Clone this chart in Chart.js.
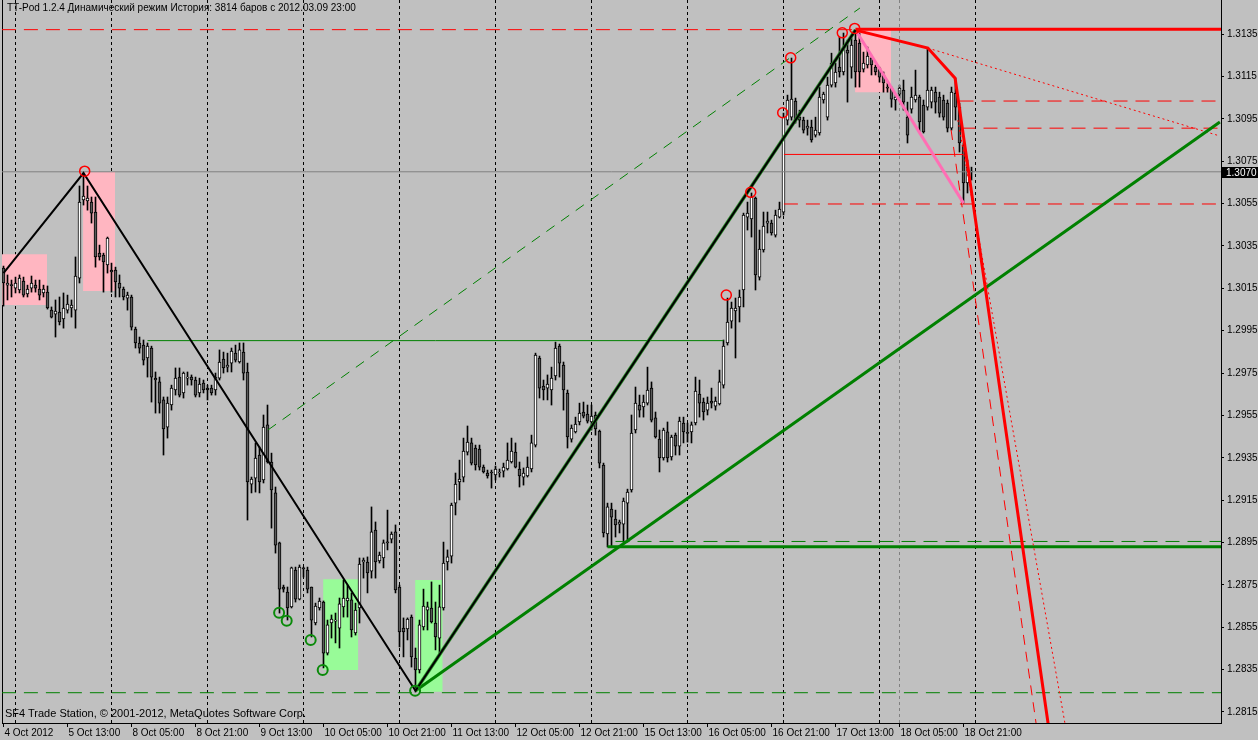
<!DOCTYPE html>
<html>
<head>
<meta charset="utf-8">
<script src="https://cdn.jsdelivr.net/npm/chart.js@4.4.0/dist/chart.umd.min.js"></script>
<style>
  html, body { margin: 0; padding: 0; background: #c0c0c0; }
  #wrap { position: relative; width: 1258px; height: 740px; overflow: hidden; }
  .note { position: absolute; font-family: 'Liberation Sans', sans-serif; color: #000; white-space: nowrap; }
  #title { left: 7px; top: 2px; font-size: 10px; }
  #copy { left: 5px; top: 707px; font-size: 11px; }
</style>
</head>
<body>
<div id="wrap">
  <canvas id="chart" width="1258" height="740"></canvas>
  <div class="note" id="title">TT-Pod 1.2.4 Динамический режим История: 3814 баров с 2012.03.09 23:00</div>
  <div class="note" id="copy">SF4 Trade Station, © 2001-2012, MetaQuotes Software Corp.</div>
</div>
<script>
// EURUSD H1, bar 0 = 4 Oct 21:00
const opens = [
  1.30246,1.30165,1.30165,1.30151,1.30142,1.30184,1.30123,1.30151,1.30165,1.30146,
  1.30128,1.30132,1.30047,1.30028,1.30038,1.30005,1.30047,1.30057,1.30047,1.30198,
  1.30567,1.30562,1.30557,1.30510,1.30316,1.30307,1.30260,1.30236,1.30236,1.30175,
  1.30146,1.30104,1.30109,1.29958,1.29892,1.29882,1.29821,1.29868,1.29726,1.29708,
  1.29623,1.29495,1.29599,1.29670,1.29731,1.29656,1.29726,1.29731,1.29717,1.29656,
  1.29703,1.29679,1.29679,1.29670,1.29726,1.29816,1.29778,1.29797,1.29844,1.29802,
  1.29849,1.29755,1.29226,1.29254,1.29363,1.29245,1.29505,1.29330,1.29184,1.28948,
  1.28740,1.28716,1.28646,1.28820,1.28683,1.28830,1.28820,1.28740,1.28570,1.28641,
  1.28669,1.28428,1.28570,1.28579,1.28546,1.28646,1.28674,1.28679,1.28523,1.28641,
  1.28858,1.28858,1.28815,1.29009,1.28863,1.28877,1.28952,1.28966,1.29000,1.28740,
  1.28546,1.28542,1.28598,1.28405,1.28348,1.28551,1.28631,1.28641,1.28570,1.28499,
  1.28641,1.28858,1.28886,1.29136,1.29236,1.29259,1.29377,1.29420,1.29396,1.29391,
  1.29306,1.29278,1.29283,1.29269,1.29278,1.29287,1.29297,1.29330,1.29377,1.29297,
  1.29259,1.29264,1.29297,1.29410,1.29821,1.29689,1.29679,1.29670,1.29736,1.29877,
  1.29788,1.29656,1.29438,1.29472,1.29519,1.29566,1.29556,1.29519,1.29552,1.29476,
  1.29316,1.28990,1.29108,1.29061,1.29037,1.29037,1.29136,1.29198,1.29481,1.29599,
  1.29590,1.29608,1.29679,1.29538,1.29438,1.29349,1.29472,1.29354,1.29457,1.29405,
  1.29514,1.29467,1.29472,1.29514,1.29651,1.29613,1.29575,1.29618,1.29594,1.29604,
  1.29693,1.29892,1.29995,1.30043,1.30062,1.30142,1.30486,1.30477,1.30576,1.30203,
  1.30331,1.30458,1.30458,1.30401,1.30486,1.30510,1.30944,1.30958,1.31034,1.30958,
  1.30944,1.30906,1.30911,1.30873,1.30883,1.31039,1.30958,1.31109,1.31119,1.31194,
  1.31171,1.31275,1.31194,1.31322,1.31308,1.31185,1.31204,1.31237,1.31194,1.31190,
  1.31157,1.31100,1.31095,1.31039,1.31067,1.31086,1.30958,1.30996,1.31039,1.31053,
  1.31015,1.31005,1.31029,1.31076,1.31053,1.31039,1.31024,1.30906,1.31071,1.31005,
  1.30826,1.30647,1.30699
];
const highs = [
  1.30255,1.30213,1.30189,1.30203,1.30213,1.30203,1.30165,1.30208,1.30189,1.30189,
  1.30165,1.30161,1.30062,1.30095,1.30109,1.30128,1.30118,1.30095,1.30298,1.30633,
  1.30694,1.30633,1.30581,1.30581,1.30354,1.30316,1.30392,1.30269,1.30250,1.30213,
  1.30156,1.30132,1.30118,1.29967,1.29920,1.29906,1.29892,1.29877,1.29755,1.29731,
  1.29637,1.29637,1.29693,1.29774,1.29774,1.29755,1.29755,1.29741,1.29731,1.29726,
  1.29717,1.29693,1.29693,1.29750,1.29859,1.29849,1.29844,1.29868,1.29882,1.29892,
  1.29892,1.29797,1.29259,1.29420,1.29401,1.29552,1.29599,1.29372,1.29212,1.28952,
  1.28749,1.28740,1.28834,1.28834,1.28844,1.28834,1.28834,1.28740,1.28664,1.28688,
  1.28674,1.28584,1.28608,1.28617,1.28688,1.28773,1.28749,1.28712,1.28664,1.28877,
  1.28877,1.28882,1.29118,1.29047,1.28905,1.28962,1.29103,1.29000,1.29033,1.28749,
  1.28594,1.28594,1.28608,1.28452,1.28584,1.28730,1.28669,1.28764,1.28669,1.28749,
  1.28952,1.28915,1.29136,1.29278,1.29339,1.29443,1.29500,1.29443,1.29410,1.29410,
  1.29316,1.29292,1.29292,1.29311,1.29297,1.29325,1.29420,1.29443,1.29420,1.29330,
  1.29302,1.29354,1.29457,1.29844,1.29830,1.29717,1.29741,1.29778,1.29896,1.29887,
  1.29802,1.29670,1.29505,1.29542,1.29608,1.29613,1.29599,1.29599,1.29566,1.29481,
  1.29325,1.29136,1.29136,1.29103,1.29056,1.29160,1.29202,1.29552,1.29684,1.29646,
  1.29646,1.29778,1.29708,1.29566,1.29481,1.29490,1.29519,1.29457,1.29467,1.29542,
  1.29542,1.29514,1.29519,1.29731,1.29717,1.29632,1.29637,1.29679,1.29637,1.29764,
  1.29906,1.30104,1.30085,1.30104,1.30142,1.30505,1.30557,1.30600,1.30581,1.30425,
  1.30510,1.30510,1.30472,1.30519,1.30557,1.30977,1.31062,1.31237,1.31048,1.30991,
  1.30958,1.30944,1.30944,1.30958,1.31100,1.31076,1.31147,1.31260,1.31213,1.31336,
  1.31355,1.31322,1.31331,1.31369,1.31355,1.31265,1.31289,1.31241,1.31204,1.31194,
  1.31171,1.31119,1.31100,1.31062,1.31109,1.31133,1.31029,1.31100,1.31180,1.31062,
  1.31039,1.31284,1.31100,1.31100,1.31076,1.31062,1.31039,1.31100,1.31142,1.31024,
  1.30836,1.30755,1.30722
];
const lows = [
  1.30066,1.30095,1.30109,1.30128,1.30128,1.30109,1.30109,1.30132,1.30132,1.30095,
  1.30109,1.30052,1.30010,1.29920,1.29977,1.29962,1.30033,1.30014,1.29962,1.30175,
  1.30543,1.30519,1.30458,1.30250,1.30283,1.30132,1.30222,1.30132,1.30109,1.30109,
  1.30095,1.30047,1.29953,1.29868,1.29844,1.29788,1.29731,1.29613,1.29561,1.29561,
  1.29363,1.29443,1.29575,1.29646,1.29637,1.29632,1.29693,1.29693,1.29637,1.29637,
  1.29656,1.29623,1.29646,1.29646,1.29717,1.29750,1.29755,1.29755,1.29802,1.29797,
  1.29717,1.29056,1.29184,1.29188,1.29184,1.29231,1.29325,1.29018,1.28900,1.28617,
  1.28716,1.28584,1.28641,1.28669,1.28679,1.28787,1.28712,1.28504,1.28561,1.28631,
  1.28358,1.28419,1.28499,1.28476,1.28452,1.28598,1.28598,1.28504,1.28513,1.28570,
  1.28782,1.28712,1.28782,1.28782,1.28853,1.28830,1.28915,1.28948,1.28712,1.28457,
  1.28410,1.28490,1.28362,1.28244,1.28334,1.28537,1.28537,1.28570,1.28443,1.28428,
  1.28631,1.28820,1.28853,1.29080,1.29151,1.29236,1.29363,1.29316,1.29292,1.29292,
  1.29278,1.29254,1.29207,1.29245,1.29259,1.29259,1.29292,1.29325,1.29302,1.29212,
  1.29221,1.29259,1.29283,1.29401,1.29632,1.29623,1.29623,1.29599,1.29717,1.29731,
  1.29575,1.29396,1.29424,1.29467,1.29505,1.29538,1.29514,1.29481,1.29457,1.29302,
  1.28976,1.28929,1.28929,1.28976,1.28995,1.28952,1.28952,1.29188,1.29467,1.29542,
  1.29542,1.29599,1.29519,1.29443,1.29283,1.29339,1.29330,1.29339,1.29363,1.29363,
  1.29420,1.29424,1.29420,1.29505,1.29542,1.29528,1.29552,1.29585,1.29575,1.29599,
  1.29679,1.29882,1.29962,1.29821,1.29991,1.30062,1.30425,1.30392,1.30142,1.30189,
  1.30321,1.30411,1.30401,1.30392,1.30482,1.30496,1.30921,1.30944,1.30930,1.30911,
  1.30883,1.30873,1.30840,1.30864,1.30873,1.31024,1.30944,1.31100,1.31100,1.31147,
  1.31157,1.31029,1.31142,1.31100,1.31100,1.31171,1.31190,1.31157,1.31157,1.31123,
  1.31076,1.31076,1.31005,1.30991,1.31048,1.30991,1.30836,1.30977,1.31029,1.30888,
  1.30883,1.30991,1.31001,1.30977,1.30958,1.30944,1.30888,1.30897,1.30944,1.30793,
  1.30552,1.30600,1.30661
];
const closes = [
  1.30175,1.30175,1.30163,1.30175,1.30198,1.30118,1.30146,1.30175,1.30151,1.30118,
  1.30146,1.30057,1.30014,1.30043,1.29991,1.30057,1.30076,1.30071,1.30208,1.30557,
  1.30585,1.30576,1.30505,1.30298,1.30298,1.30274,1.30387,1.30227,1.30180,1.30151,
  1.30109,1.30118,1.29967,1.29892,1.29868,1.29811,1.29877,1.29731,1.29717,1.29608,
  1.29486,1.29608,1.29679,1.29726,1.29646,1.29750,1.29731,1.29717,1.29646,1.29698,
  1.29670,1.29670,1.29656,1.29731,1.29802,1.29774,1.29788,1.29854,1.29811,1.29859,
  1.29750,1.29236,1.29250,1.29349,1.29236,1.29495,1.29330,1.29198,1.28938,1.28730,
  1.28730,1.28641,1.28830,1.28683,1.28834,1.28825,1.28730,1.28584,1.28650,1.28674,
  1.28428,1.28561,1.28589,1.28579,1.28660,1.28688,1.28688,1.28537,1.28631,1.28848,
  1.28867,1.28806,1.29000,1.28858,1.28891,1.28948,1.28948,1.28990,1.28726,1.28528,
  1.28528,1.28589,1.28410,1.28348,1.28561,1.28650,1.28646,1.28575,1.28504,1.28646,
  1.28853,1.28882,1.29127,1.29226,1.29250,1.29382,1.29424,1.29325,1.29316,1.29306,
  1.29283,1.29264,1.29278,1.29297,1.29283,1.29306,1.29339,1.29382,1.29306,1.29264,
  1.29278,1.29306,1.29420,1.29835,1.29679,1.29670,1.29698,1.29726,1.29868,1.29797,
  1.29670,1.29448,1.29490,1.29509,1.29561,1.29547,1.29523,1.29547,1.29486,1.29325,
  1.28995,1.29118,1.29070,1.29033,1.29047,1.29146,1.29188,1.29467,1.29608,1.29575,
  1.29613,1.29670,1.29528,1.29448,1.29349,1.29481,1.29349,1.29448,1.29405,1.29523,
  1.29472,1.29465,1.29505,1.29665,1.29608,1.29566,1.29608,1.29608,1.29618,1.29708,
  1.29877,1.29991,1.30057,1.30057,1.30109,1.30496,1.30505,1.30581,1.30213,1.30335,
  1.30444,1.30467,1.30411,1.30496,1.30524,1.30958,1.31039,1.31043,1.30944,1.30944,
  1.30897,1.30916,1.30850,1.30897,1.31053,1.31067,1.31109,1.31213,1.31171,1.31171,
  1.31284,1.31260,1.31298,1.31171,1.31171,1.31213,1.31246,1.31204,1.31171,1.31147,
  1.31119,1.31095,1.31043,1.31053,1.31095,1.31029,1.30873,1.31053,1.31062,1.30935,
  1.30888,1.31086,1.31086,1.31029,1.30977,1.30958,1.30906,1.31076,1.31005,1.30836,
  1.30647,1.30722,1.30700
];

// axis ticks
const xTickPos = [0, 16, 32, 48, 64, 80, 96, 112, 128, 144, 160, 176, 192, 208, 224, 240];
const xTickLabels = ['4 Oct 2012', '5 Oct 13:00', '8 Oct 05:00', '8 Oct 21:00', '9 Oct 13:00',
  '10 Oct 05:00', '10 Oct 21:00', '11 Oct 13:00', '12 Oct 05:00', '12 Oct 21:00',
  '15 Oct 13:00', '16 Oct 05:00', '16 Oct 21:00', '17 Oct 13:00', '18 Oct 05:00', '18 Oct 21:00'];
const dayStarts = [3, 27, 51, 75, 99, 123, 147, 171, 195, 219, 243];
const yTickValues = [1.2815, 1.2835, 1.2855, 1.2875, 1.2895, 1.2915, 1.2935, 1.2955, 1.2975,
  1.2995, 1.3015, 1.3035, 1.3055, 1.3075, 1.3095, 1.3115, 1.3135];
const xMin = -0.375, xMax = 304.375;
const yMin = 1.28098, yMax = 1.31511;

// zigzag and trend objects: [bar, price]
const zigzagBlack = [[0, 1.30222], [20, 1.30694], [103, 1.28250]];
const zigzagUp = [[103, 1.28250], [213, 1.31369]];
const zigzagRed = [[213, 1.31369], [231.1, 1.31284], [237.9, 1.31142], [261.5, 1.28050]];
const pinkLeg = [[213, 1.31369], [240, 1.30552]];
const greenTrend = [[103, 1.28250], [304.1, 1.30935]];
const greenChannel = [[66.1, 1.29481], [214.1, 1.31473]];
const redProjDash = [[236.9, 1.30897], [258.5, 1.28050]];
const redProjDot = [[238.6, 1.30944], [265.8, 1.28050]];
const redFanDot = [[231.1, 1.31284], [304.1, 1.30869]];

// horizontal levels: [from bar, to bar, price]
const greenLevel = [36, 180, 1.29903];
const greenSupport = [151, 304.4, 1.28930];
const greenSupportDash = [153, 304.4, 1.28955];
const greenBottomDash = [-0.4, 304.4, 1.28241];
const redTopDash = [-0.4, 213, 1.31371];
const redTop = [213, 304.4, 1.31373];
const redDash1 = [239, 304.4, 1.31034];
const redDash2 = [239.5, 304.4, 1.30906];
const redSolid = [195.1, 240, 1.30782];
const redDash3 = [195.1, 304.4, 1.30548];
const bidPrice = 1.30700;
const markerBar = 224;

// boxes: [from bar, to bar, top, bottom]
const pinkBoxes = [[-0.375, 10.9, 1.30311, 1.30071], [19.9, 27.9, 1.30699, 1.30137], [212.9, 221.9, 1.31369, 1.31076]];
const greenBoxes = [[79.9, 88.7, 1.28777, 1.28348], [102.9, 109.8, 1.28773, 1.28246]];

// fractal rings: [bar, price]
const highRings = [[20.3, 1.30703], [180.7, 1.30118], [186.8, 1.30603], [194.8, 1.30979], [196.8, 1.31238], [209.7, 1.31356], [212.8, 1.31377]];
const lowRings = [[68.9, 1.28618], [70.8, 1.28581], [76.8, 1.28490], [79.8, 1.28348], [102.9, 1.28250]];

const fontFam = "'Liberation Sans', sans-serif";
Chart.defaults.font.family = fontFam;
Chart.defaults.font.size = 10;
Chart.defaults.color = '#000';

function pts(arr) {
    return arr.map(p => ({ x: p[0], y: p[1] }));
}

function line(arr, color, width, dash, order) {
    return {
        type: 'line', data: pts(arr), borderColor: color, borderWidth: width,
        borderDash: dash || [], pointRadius: 0, fill: false, tension: 0, order: order
    };
}

function level(l, color, width, dash, order) {
    return line([[l[0], l[2]], [l[1], l[2]]], color, width, dash, order);
}

function box(b, color) {
    return {
        type: 'line', data: [{ x: b[0], y: b[2] }, { x: b[1], y: b[2] }],
        borderWidth: 0, pointRadius: 0, fill: { value: b[3] }, backgroundColor: color, order: 20
    };
}

function rings(arr, color, width) {
    return {
        type: 'line', data: pts(arr), showLine: false, pointRadius: 5,
        pointBorderWidth: width, pointBorderColor: color, pointBackgroundColor: 'rgba(0,0,0,0)', order: 0
    };
}

const bodies = opens.map((o, i) => ({ x: i, y: [o, closes[i]] }));
const wicks = lows.map((l, i) => ({ x: i, y: [l, highs[i]] }));
const bodyColors = opens.map((o, i) => closes[i] >= o ? '#ffffff' : '#5a5a5a');

const datasets = [
    ...pinkBoxes.map(b => box(b, '#ffb6c1')),
    ...greenBoxes.map(b => box(b, '#98fb98')),
    {
        type: 'bar', data: wicks, backgroundColor: '#000', borderWidth: 0,
        barThickness: 1, grouped: false, order: 9
    },
    {
        type: 'bar', data: bodies, backgroundColor: bodyColors, borderColor: '#000',
        borderWidth: 1, borderSkipped: false, barThickness: 3, minBarLength: 1, grouped: false, order: 8
    },
    level([-0.4, 304.4, bidPrice], '#808080', 1, [], 7),
    line([[markerBar, yMin], [markerBar, yMax]], '#808080', 1, [3, 3], 7),
    level(greenLevel, '#008000', 1, [], 6),
    level(greenSupport, '#008000', 3, [], 6),
    level(greenSupportDash, '#008000', 1, [14, 8], 6),
    level(greenBottomDash, '#008000', 1, [14, 8], 6),
    level(redTopDash, '#ff0000', 1, [14, 8], 6),
    level(redTop, '#ff0000', 3, [], 6),
    level(redDash1, '#ff0000', 1, [14, 8], 6),
    level(redDash2, '#ff0000', 1, [14, 8], 6),
    level(redSolid, '#ff0000', 1, [], 6),
    level(redDash3, '#ff0000', 1, [14, 8], 6),
    line(greenChannel, '#008000', 1, [10, 8], 5),
    line(redProjDash, '#ff0000', 1, [10, 7], 5),
    line(redProjDot, '#ff0000', 1, [2, 3], 5),
    line(redFanDot, '#ff0000', 1, [2, 3], 5),
    line(greenTrend, '#008000', 3, [], 4),
    line(pinkLeg, '#ff6eb4', 3, [], 3),
    line(zigzagBlack, '#000', 2, [], 2),
    line(zigzagUp, '#2a8a2a', 3.5, [], 2),
    line(zigzagUp, '#000', 2, [], 1),
    line(zigzagRed, '#ff0000', 3, [], 1),
    rings(highRings, '#ff0000', 1.5),
    rings(lowRings, '#0a8a0a', 2)
];

// last price tag on the right axis
const priceTag = {
    id: 'priceTag',
    afterDraw(chart) {
        const { ctx, chartArea, scales } = chart;
        const v = closes[closes.length - 1];
        const py = Math.round(scales.y.getPixelForValue(v));
        ctx.save();
        ctx.fillStyle = '#000';
        ctx.fillRect(chartArea.right + 1, py - 5, 37, 11);
        ctx.fillStyle = '#fff';
        ctx.font = '10px ' + fontFam;
        ctx.textBaseline = 'middle';
        ctx.fillText(v.toFixed(4), chartArea.right + 5, py + 1);
        ctx.restore();
    }
};

new Chart(document.getElementById('chart'), {
    type: 'bar',
    data: { datasets: datasets },
    options: {
        responsive: false,
        animation: false,
        devicePixelRatio: 1,
        events: [],
        layout: { autoPadding: false, padding: { left: 2, top: 0, right: 0, bottom: 0 } },
        plugins: { legend: { display: false }, tooltip: { enabled: false }, title: { display: false } },
        scales: {
            x: {
                type: 'linear', position: 'bottom', min: xMin, max: xMax, offset: false,
                grid: { drawOnChartArea: false, drawTicks: true, tickLength: 4, tickColor: '#000', offset: false },
                border: { display: true, color: '#000' },
                ticks: {
                    autoSkip: false, maxRotation: 0, align: 'start', padding: 0, labelOffset: 1,
                    callback: (v, i) => xTickLabels[i]
                },
                afterBuildTicks: s => { s.ticks = xTickPos.map(v => ({ value: v })); },
                afterFit: s => { s.height = 17; s.paddingLeft = 0; s.paddingRight = 0; }
            },
            xg: {
                type: 'linear', position: 'top', min: xMin, max: xMax, offset: false,
                grid: { drawOnChartArea: true, drawTicks: false, color: '#000', lineWidth: 1, offset: false },
                border: { display: false, dash: [3, 3] },
                ticks: { display: false },
                afterBuildTicks: s => { s.ticks = dayStarts.map(v => ({ value: v })); },
                afterFit: s => { s.height = 0; s.paddingLeft = 0; s.paddingRight = 0; }
            },
            y: {
                type: 'linear', position: 'right', min: yMin, max: yMax, beginAtZero: false,
                grid: { drawOnChartArea: false, drawTicks: true, tickLength: 3, tickColor: '#000' },
                border: { display: true, color: '#000' },
                ticks: { padding: 3, callback: v => v.toFixed(4) },
                afterBuildTicks: s => { s.ticks = yTickValues.map(v => ({ value: v })); },
                afterFit: s => { s.width = 37; s.paddingTop = 0; s.paddingBottom = 0; }
            },
            yFrame: {
                type: 'linear', position: 'left', min: yMin, max: yMax,
                grid: { display: false, drawTicks: false },
                border: { display: true, color: '#000' },
                ticks: { display: false },
                afterFit: s => { s.width = 0; s.paddingTop = 0; s.paddingBottom = 0; }
            }
        }
    },
    plugins: [priceTag]
});
</script>
</body>
</html>
